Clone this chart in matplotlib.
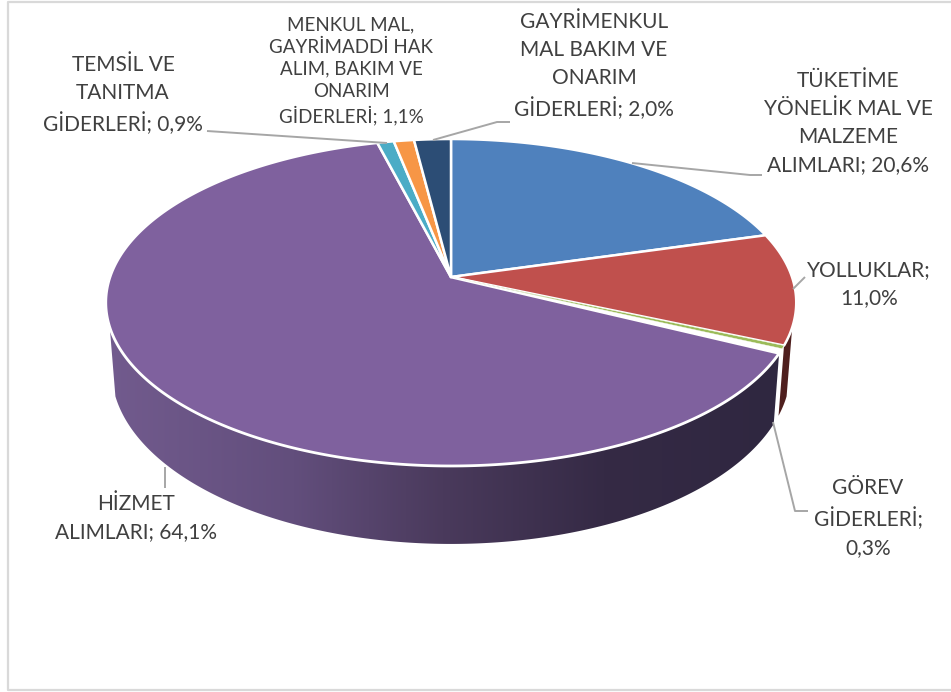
import numpy as np
import matplotlib
matplotlib.use("Agg")
import matplotlib.pyplot as plt
from matplotlib.patches import Polygon
from matplotlib.colors import LinearSegmentedColormap

categories = ["TÜKETİME\nYÖNELİK MAL VE\nMALZEME\nALIMLARI", "YOLLUKLAR", "GÖREV\nGİDERLERİ",
              "HİZMET\nALIMLARI", "TEMSİL VE\nTANITMA\nGİDERLERİ",
              "MENKUL MAL,\nGAYRİMADDİ HAK\nALIM, BAKIM VE\nONARIM\nGİDERLERİ",
              "GAYRİMENKUL\nMAL BAKIM VE\nONARIM\nGİDERLERİ"]
values = [20.6, 11.0, 0.3, 64.1, 0.9, 1.1, 2.0]
colors = ["#4f81bd", "#c0504d", "#9bbb59", "#7f619e", "#4bacc6", "#f79646", "#2c4d75"]
edge_widths = [1.8, 1.8, 0.3, 2.0, 1.8, 1.8, 1.8]
label_sep = ["; ", ";\n", ";\n", "; ", "; ", "; ", "; "]
label_pos = [(848, 123), (869, 284), (868, 518), (136, 518), (123, 95), (351, 71), (594, 66)]
label_size = [15, 15, 15, 15, 15, 13.5, 15]
line_space = [1.5, 1.5, 1.5, 1.5, 1.5, 1.35, 1.5]
leaders = [[(632, 163), (750, 175), (762, 175)],
           [(793, 289), (805, 277)],
           [(773, 422), (795, 511), (808, 511)],
           [(165, 467), (165, 488)],
           [(207, 131), (387, 143)],
           [(433, 140), (497, 122), (510, 122)]]

CX, CY, A, B, PERSP, H, SHRINK = 451, 277, 341, 159.5, -0.156, 65.8, 0.0165
PURPLE_GAP = 1.6


def top(t):
    t = np.radians(t)
    u, v = np.sin(t), -np.cos(t)
    d = 1 + PERSP * v
    return CX + A * u / d, CY + B * v / d


def bottom(t):
    x, y = top(t)
    d = 1 + PERSP * (-np.cos(np.radians(t)))
    return x + (CX - x) * SHRINK, y + H / d


fig = plt.figure(figsize=(9.51, 6.92), dpi=100, facecolor="white")
ax = fig.add_axes([0, 0, 1, 1])
ax.set_xlim(0, 951)
ax.set_ylim(692, 0)
ax.axis("off")

# outer chart frame
ax.plot([951, 8, 8, 951], [1.5, 1.5, 690, 690], color="#d9d9d9", lw=1.6, zorder=1)

edges = 360 * np.cumsum([0] + values) / sum(values)

# side of the purple slice with gradient
side_cmap = LinearSegmentedColormap.from_list(
    "side", [(0, "#725b8e"), (0.28, "#624e7c"), (0.5, "#4a3a5c"), (0.74, "#352a45"), (1, "#2f2740")])
ts = np.linspace(edges[3] + PURPLE_GAP, 252.5, 300)
tx, ty = top(ts)
bx, by = bottom(ts)
poly = Polygon(np.r_[np.c_[tx, ty], np.c_[bx, by][::-1]], closed=True, fc="none", ec="none", transform=ax.transData)
ax.add_patch(poly)
im = ax.imshow(np.linspace(0, 1, 256)[None, :], extent=[105, 780, 560, 320], cmap=side_cmap, vmin=0, vmax=1,
               aspect="auto", zorder=2)
im.set_clip_path(poly)
ax.set_xlim(0, 951)
ax.set_ylim(692, 0)

# side of the red slice
ts = np.linspace(107.5, edges[2], 40)
tx, ty = top(ts)
bx, by = bottom(ts)
ax.add_patch(Polygon(np.r_[np.c_[tx, ty], np.c_[bx, by][::-1]], closed=True, fc="#4f1f1e", ec="none", zorder=2))

# top faces (the narrow green slice is drawn last so it stays visible)
for i in [0, 1, 3, 4, 5, 6, 2]:
    v = values[i]
    start = edges[i] + (PURPLE_GAP if i == 3 else 0)
    ts = np.linspace(start, edges[i + 1], max(3, int(v * 8)))
    tx, ty = top(ts)
    pts = np.r_[[[CX, CY]], np.c_[tx, ty]]
    ax.add_patch(Polygon(pts, closed=True, fc=colors[i], ec="white", lw=edge_widths[i], joinstyle="round", zorder=4))

# leader lines
for seg in leaders:
    xs, ys = zip(*seg)
    ax.plot(xs, ys, color="#a6a6a6", lw=1.4, zorder=5, solid_capstyle="butt")

# labels
for c, v, sep, (x, y), s, ls in zip(categories, values, label_sep, label_pos, label_size, line_space):
    txt = f"{c}{sep}{v:.1f}%".replace(".", ",")
    ax.text(x, y, txt, ha="center", va="center", ma="center", fontsize=s, family="Lato",
            color="#404040", linespacing=ls, zorder=6)

fig.savefig("out.png", dpi=100)
